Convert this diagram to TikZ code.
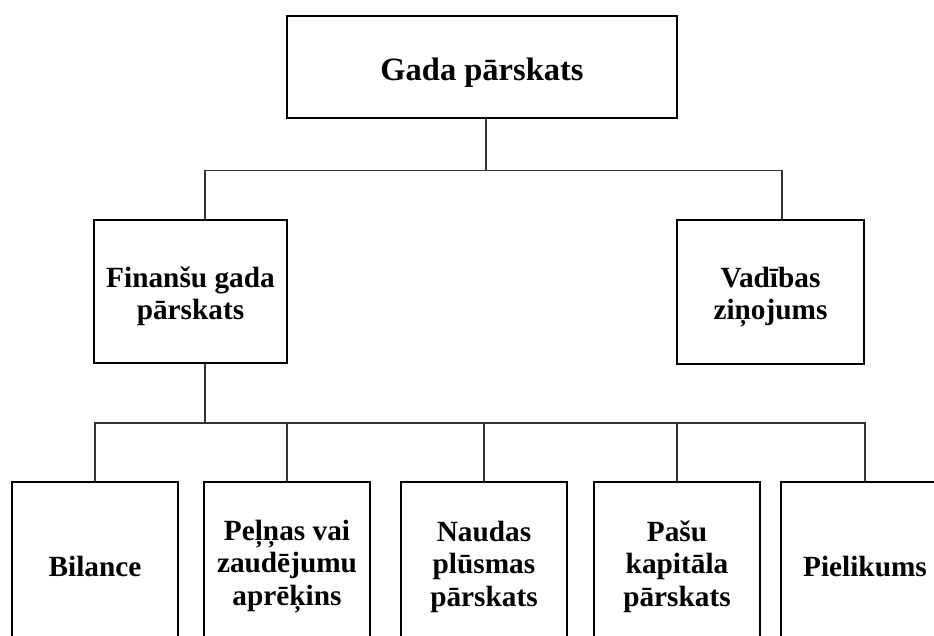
\documentclass[tikz,border=0pt]{standalone}
\usepackage{fontspec}
\setmainfont{Liberation Serif}
\begin{document}
\begin{tikzpicture}[x=1pt,y=-1pt,
  box/.style={draw=black, line width=2.8pt, rectangle, inner sep=0pt},
  txt/.style={inner sep=0pt, align=center, font=\bfseries\fontsize{29.3}{32.5}\selectfont},
  link/.style={draw=black!80, line width=1.3pt}]
\useasboundingbox (0,0) rectangle (934,635);
\clip (0,0) rectangle (934,635);
% boxes
\node[box, minimum width=390pt, minimum height=102pt] (top) at (482,67) {};
\node[box, minimum width=193pt, minimum height=143pt] (fin) at (190.5,291.5) {};
\node[box, minimum width=187pt, minimum height=144pt] (vad) at (770.5,292) {};
\node[box, minimum width=166pt, minimum height=163pt] (b1) at (95,563.5) {};
\node[box, minimum width=166pt, minimum height=163pt] (b2) at (287,563.5) {};
\node[box, minimum width=166pt, minimum height=163pt] (b3) at (484,563.5) {};
\node[box, minimum width=166pt, minimum height=163pt] (b4) at (677,563.5) {};
\node[box, minimum width=168pt, minimum height=163pt] (b5) at (865,563.5) {};
% texts
\node[txt, font=\bfseries\fontsize{32.5}{36}\selectfont] (topt) at ([yshift=-6pt]top.center) {Gada pārskats};
\node[txt] (fint) at ([yshift=-5pt]fin.center) {Finanšu gada\\pārskats};
\node[txt] (vadt) at ([yshift=-5pt]vad.center) {Vadības\\ziņojums};
\node[txt] (b1t) at ([yshift=-3pt]b1.center) {Bilance};
\node[txt] (b2t) at ([yshift=-3pt]b2.center) {Peļņas vai\\zaudējumu\\aprēķins};
\node[txt] (b3t) at ([yshift=-3pt]b3.center) {Naudas\\plūsmas\\pārskats};
\node[txt] (b4t) at ([yshift=-3pt]b4.center) {Pašu\\kapitāla\\pārskats};
\node[txt] (b5t) at ([yshift=-3pt]b5.center) {Pielikums};
% junctions
\coordinate (j1) at (486,170.5);
\coordinate (j2) at (205,423);
% connectors
\draw[link] ([xshift=4pt]top.south) -- (j1);
\draw[link] (j1) -| ([xshift=14.5pt]fin.north);
\draw[link] (j1) -| ([xshift=11.5pt]vad.north);
\draw[link] ([xshift=14.5pt]fin.south) -- (j2);
\draw[link] (j2) -| (b1.north);
\draw[link] (j2) -| (b2.north);
\draw[link] (j2) -| (b3.north);
\draw[link] (j2) -| (b4.north);
\draw[link] (j2) -| (b5.north);
\end{tikzpicture}
\end{document}
